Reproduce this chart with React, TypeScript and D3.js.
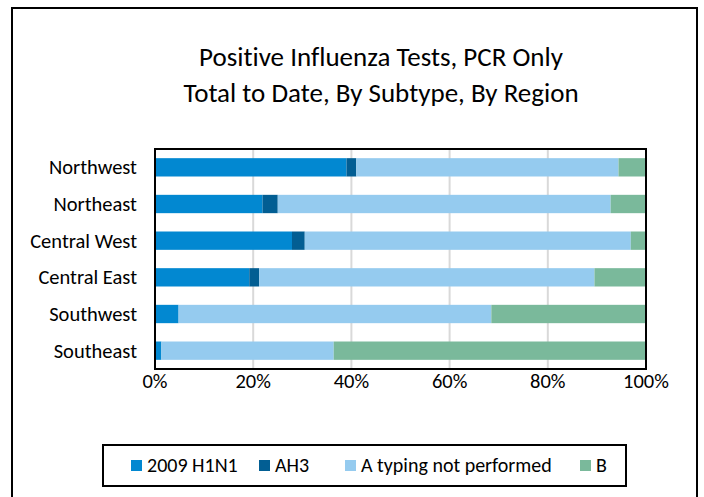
import React, { useEffect, useRef } from 'react';
import * as d3 from 'd3';

// regions top to bottom
const regions = ['Northwest', 'Northeast', 'Central West', 'Central East', 'Southwest', 'Southeast'];
const subtypes = ['2009 H1N1', 'AH3', 'A typing not performed', 'B'];

// percent of positive tests, per region
const h1n1 = [39.0, 21.9, 27.9, 19.2, 4.8, 1.3];
const ah3 = [2.0, 3.1, 2.6, 2.0, 0, 0];
const aTyping = [53.4, 67.8, 66.4, 68.3, 63.7, 35.1];
const bType = [5.6, 7.2, 3.1, 10.5, 31.5, 63.6];

const xTicks = [0, 20, 40, 60, 80, 100];
const titleLines = ['Positive Influenza Tests, PCR Only', 'Total to Date, By Subtype, By Region'];

const colors = ['#0288d1', '#025e93', '#95cbef', '#7ab99b'];
const FONT = "Carlito, 'Liberation Sans Narrow', 'Open Sans', sans-serif";

export default function App() {
  const ref = useRef<SVGSVGElement>(null);

  useEffect(() => {
    const svg = d3.select(ref.current);
    svg.selectAll('*').remove();

    const H = 497;
    const plot = { left: 155, right: 646, top: 149, bottom: 369 };

    // outer frame
    svg.append('rect')
      .attr('x', 12).attr('y', 8).attr('width', 685).attr('height', H + 10)
      .attr('fill', 'white').attr('stroke', '#000').attr('stroke-width', 2);

    // title
    svg.selectAll('.title').data(titleLines).join('text')
      .attr('class', 'title')
      .attr('x', 381).attr('y', (d, i) => 66 + i * 36)
      .attr('text-anchor', 'middle')
      .attr('font-size', 27)
      .text(d => d);

    const table = regions.map((r, i) => ({
      region: r,
      '2009 H1N1': h1n1[i],
      AH3: ah3[i],
      'A typing not performed': aTyping[i],
      B: bType[i],
    }));
    const series = d3.stack<any>().keys(subtypes)
      .offset(d3.stackOffsetExpand)(table);

    const x = d3.scaleLinear().domain([0, 1]).range([plot.left, plot.right]);
    const y = d3.scaleBand().domain(regions).range([plot.top, plot.bottom])
      .paddingInner(0.5).paddingOuter(0.25);

    // gridlines
    svg.append('g').selectAll('line').data(xTicks.slice(1, -1)).join('line')
      .attr('x1', d => x(d / 100)).attr('x2', d => x(d / 100))
      .attr('y1', plot.top).attr('y2', plot.bottom)
      .attr('stroke', '#d9d9d9').attr('stroke-width', 2);

    // bars
    svg.append('g').selectAll('g').data(series).join('g')
      .attr('fill', (d, i) => colors[i])
      .selectAll('rect').data(d => d).join('rect')
      .attr('x', d => x(d[0]))
      .attr('width', d => x(d[1]) - x(d[0]))
      .attr('y', d => y(d.data.region)!)
      .attr('height', y.bandwidth());

    // plot border
    svg.append('rect')
      .attr('x', plot.left).attr('y', plot.top)
      .attr('width', plot.right - plot.left).attr('height', plot.bottom - plot.top)
      .attr('fill', 'none').attr('stroke', '#000').attr('stroke-width', 2);

    // y axis labels
    svg.append('g').selectAll('text').data(regions).join('text')
      .attr('x', 137).attr('y', d => y(d)! + y.bandwidth() / 2 + 7)
      .attr('text-anchor', 'end')
      .attr('font-size', 20.5)
      .text(d => d);

    // x axis labels
    svg.append('g').selectAll('text').data(xTicks).join('text')
      .attr('x', d => x(d / 100)).attr('y', 388)
      .attr('text-anchor', 'middle')
      .attr('font-size', 20.5)
      .text(d => d + '%');

    // legend
    const legendX = [131, 259, 345, 580];
    svg.append('rect')
      .attr('x', 103).attr('y', 445).attr('width', 523).attr('height', 41)
      .attr('fill', 'white').attr('stroke', '#000').attr('stroke-width', 2);
    const item = svg.append('g').selectAll('g').data(subtypes).join('g')
      .attr('transform', (d, i) => `translate(${legendX[i]},0)`);
    item.append('rect')
      .attr('x', 0).attr('y', 460).attr('width', 11).attr('height', 11)
      .attr('fill', (d, i) => colors[i]);
    item.append('text')
      .attr('x', 16).attr('y', 472)
      .attr('font-size', 20)
      .text(d => d);
  }, []);

  return (
    <svg ref={ref} width={704} height={497}
      style={{ position: 'absolute', left: 0, top: 0, fontFamily: FONT, fontVariantLigatures: 'none', background: 'white' }} />
  );
}
